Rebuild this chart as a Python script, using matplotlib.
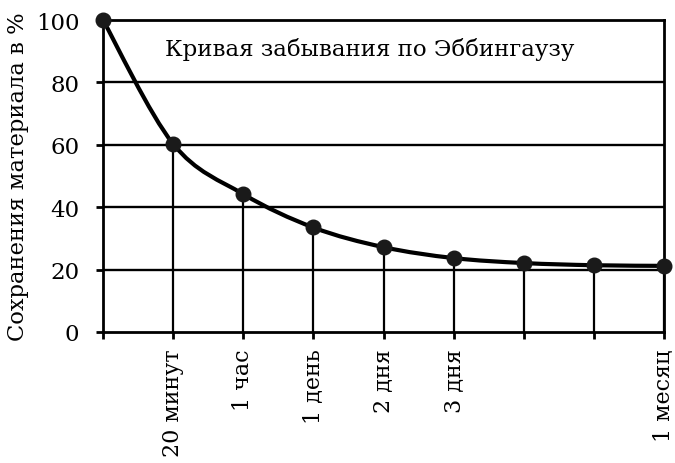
import matplotlib.pyplot as plt
from matplotlib.path import Path
from matplotlib.patches import PathPatch
import numpy as np

# Ebbinghaus forgetting curve
positions = [0, 1, 2, 3, 4, 5, 6, 7, 8]
retention = [100, 60.3, 44.2, 33.5, 27.2, 23.7, 22.1, 21.4, 21.2]
tick_labels = ['', '20 минут', '1 час', '1 день', '2 дня', '3 дня', '', '', '1 месяц']
y_ticks = [0, 20, 40, 60, 80, 100]
title = 'Кривая забывания по Эббингаузу'
ylabel = 'Сохранения материала в %'

plt.rcParams['font.family'] = ['DejaVu Serif']

fig = plt.figure(figsize=(6.75, 4.64), dpi=100)
ax = fig.add_axes([103 / 675, 131 / 464, 561 / 675, 312 / 464])

ax.set_xlim(0, 8)
ax.set_ylim(0, 100)

# horizontal grid
for yv in y_ticks[1:-1]:
    ax.axhline(yv, color='black', lw=1.7, zorder=1)

# vertical drop lines from each point
ax.vlines(positions[1:], 0, retention[1:], color='black', lw=1.6, zorder=1)

# smooth curve through the points (Catmull-Rom -> cubic Bezier)
pts = np.column_stack([positions, retention]).astype(float)
verts = [tuple(pts[0])]
codes = [Path.MOVETO]
for i in range(len(pts) - 1):
    p0 = pts[i - 1] if i > 0 else pts[i]
    p1 = pts[i]
    p2 = pts[i + 1]
    p3 = pts[i + 2] if i + 2 < len(pts) else pts[i + 1]
    c1 = p1 + (p2 - p0) / 6
    c2 = p2 - (p3 - p1) / 6
    verts += [tuple(c1), tuple(c2), tuple(p2)]
    codes += [Path.CURVE4] * 3
ax.add_patch(PathPatch(Path(verts, codes), fill=False, ec='black', lw=3, zorder=3,
                       capstyle='round', joinstyle='round'))
ax.plot(positions, retention, 'o', color='#1a1a1a', ms=10.5, zorder=4, clip_on=False)

ax.text(0.88, 90.8, title, fontsize=16.5, va='center', ha='left', zorder=2)

for s in ax.spines.values():
    s.set_linewidth(2)
ax.set_yticks(y_ticks)
ax.set_yticklabels([str(v) for v in y_ticks], fontsize=16.5)
ax.set_xticks(positions)
ax.set_xticklabels(tick_labels, rotation=90, fontsize=16)
ax.tick_params(axis='both', length=5, width=2, direction='out', color='black')
ax.tick_params(axis='y', pad=12)
ax.tick_params(axis='x', pad=7)
ax.set_ylabel(ylabel, fontsize=16.3, labelpad=5)

fig.savefig('out.png', dpi=100)
